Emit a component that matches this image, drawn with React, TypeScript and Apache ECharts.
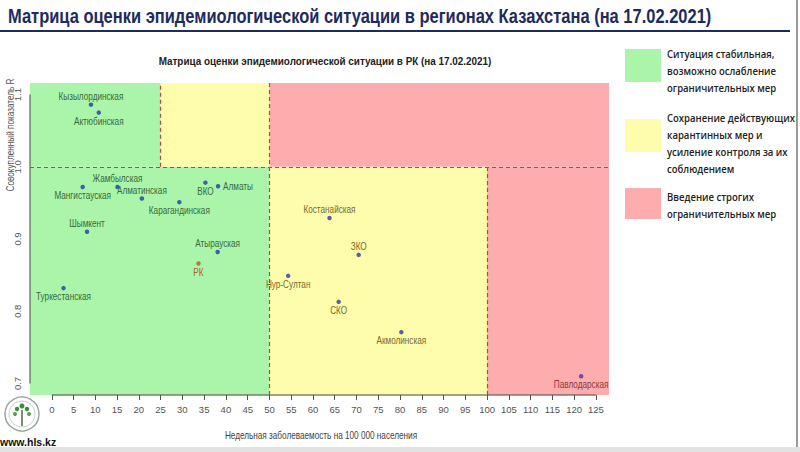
import React, { useEffect, useRef } from "react";
import * as echarts from "echarts";

const pageTitle = "Матрица оценки эпидемиологической ситуации в регионах Казахстана (на 17.02.2021)";
const chartTitle = "Матрица оценки эпидемиологической ситуации в РК (на 17.02.2021)";
const xName = "Недельная заболеваемость на 100 000 населения";
const yName = "Совокупленный показатель R";

const regions = [
  "Кызылординская", "Актюбинская", "Мангистауская", "Жамбылская", "Алматинская",
  "Карагандинская", "ВКО", "Алматы", "Шымкент", "Атырауская", "РК", "Туркестанская",
  "Костанайская", "ЗКО", "Нур-Султан", "СКО", "Акмолинская", "Павлодарская",
];
const incidence = [9.0, 10.8, 7.1, 15.1, 20.7, 29.3, 35.3, 38.2, 8.1, 38.1, 33.7, 2.7, 63.8, 70.5, 54.3, 65.9, 80.3, 121.6];
const rValues = [1.086, 1.075, 0.972, 0.972, 0.956, 0.951, 0.978, 0.973, 0.91, 0.882, 0.866, 0.832, 0.929, 0.878, 0.849, 0.813, 0.771, 0.71];
const labelPos = ["top", "bottom", "bottom", "top", "top", "bottom", "bottom", "right", "top", "top", "bottom", "bottom", "top", "top", "bottom", "bottom", "bottom", "bottom"];

const xTicks = [0, 5, 10, 15, 20, 25, 30, 35, 40, 45, 50, 55, 60, 65, 70, 75, 80, 85, 90, 95, 100, 105, 110, 115, 120, 125];
const yTicks = [0.7, 0.8, 0.9, 1.0, 1.1];
const xRange = [-5, 128];
const yRange = [0.684, 1.116];
const xThresholds = [25, 50, 100];
const rThreshold = 1.0;

const zoneTexts = [
  ["Ситуация стабильная,", "возможно ослабление", "ограничительных мер"],
  ["Сохранение действующих", "карантинных мер и", "усиление контроля за их", "соблюдением"],
  ["Введение строгих", "ограничительных мер"],
];
const zoneColors = ["#aaf5aa", "#fdfdab", "#fdadad"];
const zoneLabelColors = ["#3a6a3a", "#7a6a30", "#8a3a3a"];

const SANS = "'Liberation Sans', Arial, sans-serif";
const NARROW_SCALE = 0.82;

function zoneOf(x: number, y: number): number {
  const [t1, t2, t3] = xThresholds;
  if (y >= rThreshold) {
    if (x < t1) return 0;
    if (x < t2) return 1;
    return 2;
  }
  if (x < t2) return 0;
  if (x < t3) return 1;
  return 2;
}

export default function App() {
  const ref = useRef<HTMLDivElement>(null);
  useEffect(() => {
    if (!ref.current) return;
    const chart = echarts.init(ref.current, undefined, { renderer: "svg" });
    const [xMin, xMax] = xRange;
    const [yMin, yMax] = yRange;
    const [t1, t2, t3] = xThresholds;

    const areas = [
      [xMin, yMin, t2, rThreshold, 0],
      [xMin, rThreshold, t1, yMax, 0],
      [t1, rThreshold, t2, yMax, 1],
      [t2, yMin, t3, rThreshold, 1],
      [t2, rThreshold, xMax, yMax, 2],
      [t3, yMin, xMax, rThreshold, 2],
    ].map(([a, b, c, d, z]) => [
      { coord: [a, b], itemStyle: { color: zoneColors[z], opacity: 1 } },
      { coord: [c, d] },
    ]);

    const dashLines = [
      [{ coord: [xMin, rThreshold] }, { coord: [xMax, rThreshold] }],
      [{ coord: [t1, rThreshold] }, { coord: [t1, yMax] }],
      [{ coord: [t2, yMin] }, { coord: [t2, yMax] }],
      [{ coord: [t3, yMin] }, { coord: [t3, rThreshold] }],
    ];

    const points = regions.map((name, i) => {
      const isRK = name === "РК";
      const z = zoneOf(incidence[i], rValues[i]);
      return {
        name,
        value: [incidence[i], rValues[i]],
        itemStyle: { color: isRK ? "#b0622a" : z === 2 ? "#5a2aa0" : z === 1 ? "#34389a" : "#1f3da0" },
      };
    });

    const labelData = regions.map((name, i) => [incidence[i], rValues[i], i]);

    const graphics: any[] = [
      { type: "rect", shape: { x: 0, y: 0, width: 800, height: 452 }, style: { fill: "#ffffff" }, z: -10, silent: true },
      {
        type: "text", x: 8, y: 17, scaleX: 0.845,
        style: { text: pageTitle, font: `bold 19.5px ${SANS}`, fill: "#1e2b5e", verticalAlign: "middle" },
      },
      { type: "rect", shape: { x: 0, y: 30, width: 790, height: 2 }, style: { fill: "#1e2b5e" } },
      { type: "rect", shape: { x: 796, y: 0, width: 2, height: 452 }, style: { fill: "#9a9a9a" } },
      { type: "rect", shape: { x: 0, y: 447, width: 800, height: 5 }, style: { fill: "#e2e2e2" } },
      {
        type: "text", x: 325, y: 61, scaleX: 0.9,
        style: { text: chartTitle, font: `bold 11px ${SANS}`, fill: "#222", align: "center", verticalAlign: "middle" },
      },
      {
        type: "text", x: 11, y: 135, rotation: Math.PI / 2, scaleX: NARROW_SCALE,
        style: { text: yName, font: `10px ${SANS}`, fill: "#555", align: "center", verticalAlign: "middle" },
      },
      {
        type: "text", x: 321, y: 436, scaleX: NARROW_SCALE,
        style: { text: xName, font: `10px ${SANS}`, fill: "#444", align: "center", verticalAlign: "middle" },
      },
      // logo
      { type: "circle", shape: { cx: 22, cy: 414, r: 17 }, style: { fill: "none", stroke: "#9aa8a0", lineWidth: 1.5 } },
      { type: "circle", shape: { cx: 22, cy: 414, r: 13 }, style: { fill: "none", stroke: "#c8d0cc", lineWidth: 1 } },
      { type: "line", shape: { x1: 22, y1: 410, x2: 22, y2: 426 }, style: { stroke: "#4a6a4a", lineWidth: 1.5 } },
      { type: "circle", shape: { cx: 22, cy: 406, r: 2.5 }, style: { fill: "#3f8a3f" } },
      { type: "circle", shape: { cx: 17, cy: 409, r: 2.2 }, style: { fill: "#3f8a3f" } },
      { type: "circle", shape: { cx: 27, cy: 409, r: 2.2 }, style: { fill: "#3f8a3f" } },
      { type: "circle", shape: { cx: 15, cy: 414, r: 2 }, style: { fill: "#5a9a5a" } },
      { type: "circle", shape: { cx: 29, cy: 414, r: 2 }, style: { fill: "#5a9a5a" } },
      {
        type: "text", x: 0, y: 442,
        style: { text: "www.hls.kz", font: `bold 10.5px ${SANS}`, fill: "#111", verticalAlign: "middle" },
      },
    ];

    const legendTops = [49, 119, 188];
    const legendTextTops = [45, 109, 188];
    zoneTexts.forEach((lines, k) => {
      graphics.push({
        type: "rect",
        shape: { x: 625, y: legendTops[k], width: 36, height: k === 2 ? 31 : 33 },
        style: { fill: zoneColors[k] },
      });
      graphics.push({
        type: "text", x: 667, y: legendTextTops[k], scaleX: 0.83,
        style: {
          text: lines.join("\n"),
          font: `600 11.5px 'Open Sans', 'Noto Sans', sans-serif`,
          fill: "#222",
          lineHeight: 17,
        },
      });
    });

    chart.setOption({
      animation: false,
      backgroundColor: "#ffffff",
      grid: { left: 30, right: 191, top: 83, bottom: 57 },
      xAxis: {
        type: "value",
        min: xMin,
        max: xMax,
        axisLine: { show: false },
        splitLine: { show: false },
        axisTick: { show: true, customValues: xTicks, length: 5, lineStyle: { color: "#555" } },
        axisLabel: { customValues: xTicks, fontFamily: SANS, fontSize: 9.5, color: "#555", margin: 9 },
      },
      yAxis: {
        type: "value",
        min: yMin,
        max: yMax,
        axisLine: { show: false },
        splitLine: { show: false },
        axisTick: { show: true, customValues: yTicks, length: 5, lineStyle: { color: "#555" } },
        axisLabel: {
          customValues: yTicks,
          fontFamily: SANS,
          fontSize: 9.5,
          color: "#555",
          rotate: 90,
          margin: 8,
          formatter: (v: number) => v.toFixed(1),
        },
      },
      graphic: graphics,
      series: [
        {
          type: "line",
          silent: true,
          symbol: "none",
          clip: false,
          z: 3,
          lineStyle: { color: "#444", width: 1 },
          data: [[xTicks[0], yMin], [xTicks[xTicks.length - 1], yMin]],
          markArea: { silent: true, data: areas, z: 1 },
          markLine: {
            silent: true,
            symbol: "none",
            label: { show: false },
            lineStyle: { color: "#c0443a", type: [4, 3], width: 1.2 },
            data: dashLines,
          },
        },
        {
          type: "line",
          silent: true,
          symbol: "none",
          clip: false,
          z: 3,
          lineStyle: { color: "#444", width: 1 },
          data: [[xMin, yTicks[0]], [xMin, yTicks[yTicks.length - 1]]],
        },
        {
          type: "scatter",
          symbolSize: 4.5,
          z: 5,
          data: points,
        },
        {
          type: "custom",
          z: 6,
          clip: false,
          silent: true,
          encode: { x: 0, y: 1 },
          data: labelData,
          renderItem: (params: any, api: any) => {
            const i = api.value(2);
            const p = api.coord([api.value(0), api.value(1)]);
            const pos = labelPos[i];
            const isRK = regions[i] === "РК";
            const z = zoneOf(incidence[i], rValues[i]);
            let dx = 0;
            let dy = 0;
            let align = "center";
            let vAlign = "middle";
            if (pos === "top") { dy = -3; vAlign = "bottom"; }
            else if (pos === "bottom") { dy = 4; vAlign = "top"; }
            else if (pos === "right") { dx = 5; align = "left"; }
            return {
              type: "text",
              x: p[0],
              y: p[1],
              scaleX: NARROW_SCALE,
              style: {
                text: regions[i],
                x: dx / NARROW_SCALE,
                y: dy,
                align,
                verticalAlign: vAlign,
                fill: isRK ? "#a8662c" : zoneLabelColors[z],
                font: `10px ${SANS}`,
              },
            };
          },
        },
      ],
    });
    return () => chart.dispose();
  }, []);
  return <div ref={ref} style={{ position: "fixed", left: 0, top: 0, width: 800, height: 452 }} />;
}
